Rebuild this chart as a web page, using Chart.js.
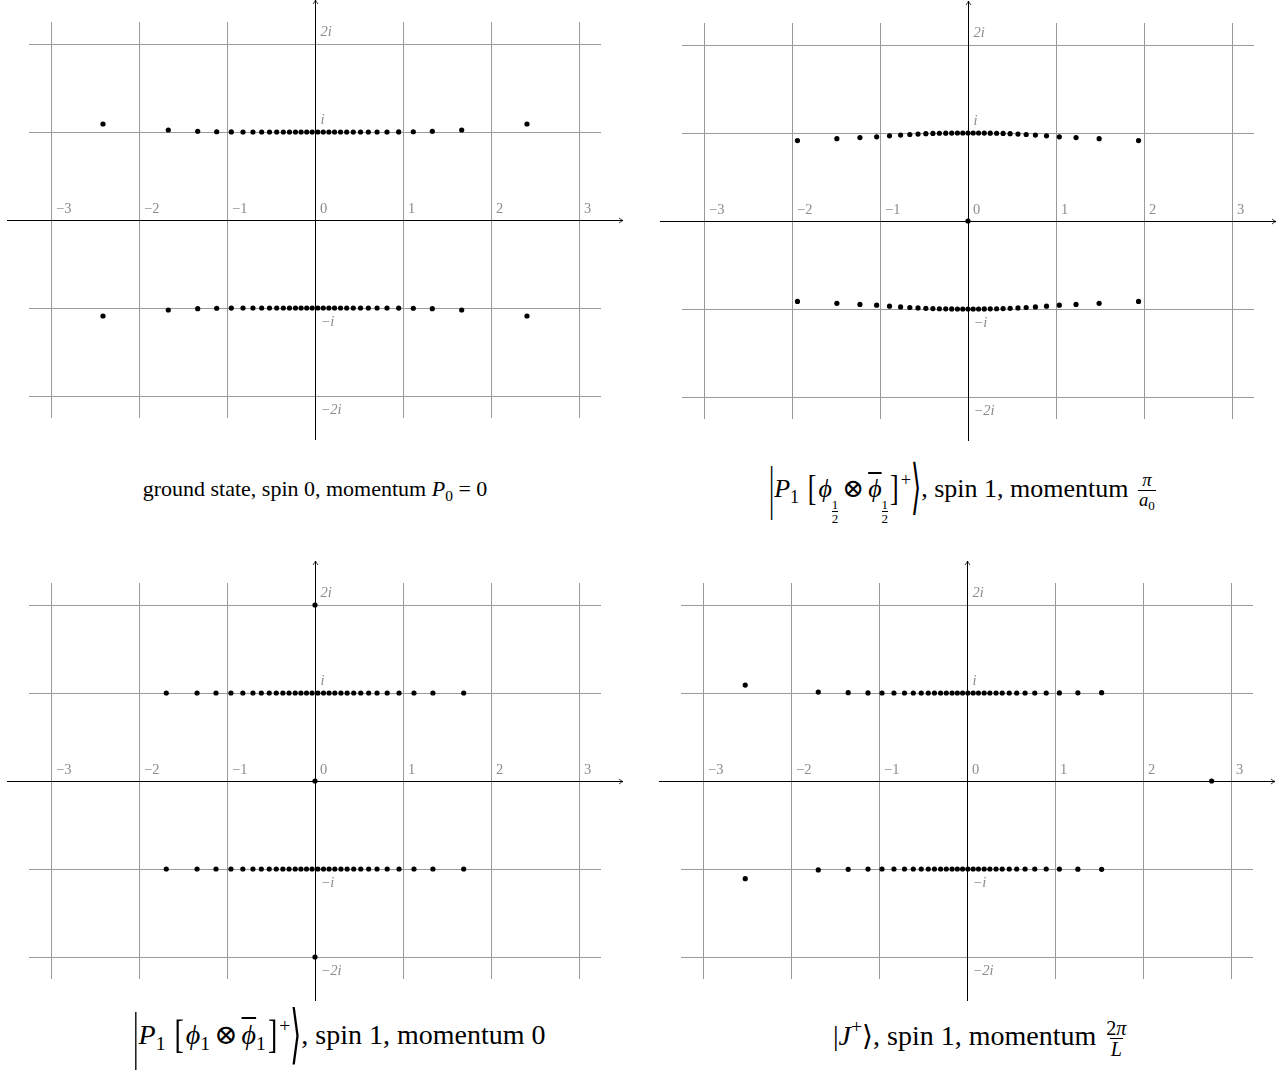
<!DOCTYPE html>
<html>
<head>
<meta charset="utf-8">
<script src="https://cdn.jsdelivr.net/npm/chart.js@4.4.1/dist/chart.umd.min.js"></script>
<style>
body { margin: 0; background: #fff; width: 1288px; height: 1070px; position: relative; overflow: hidden;
  font-family: "Liberation Serif", "DejaVu Serif", serif; }
canvas { position: absolute; }
.cap { position: absolute; white-space: nowrap; color: #000; line-height: 1; }
.cap sub { font-size: 0.7em; vertical-align: -0.3em; }
.cap sup { font-size: 0.7em; vertical-align: 0.6em; }
.big { display: inline-block; transform: scaleY(2.3); font-weight: 300; }
.brk { display: inline-block; transform: scaleY(1.4); margin: 0 2px; }
.op { margin: 0 4px; }
.frac { display: inline-flex; flex-direction: column; align-items: center; vertical-align: middle; font-size: 0.72em; margin-left: 3px; }
.frac > span:last-child { border-top: 1px solid #000; padding: 0 1px; }
.hf { display: inline-flex; flex-direction: column; align-items: center; font-size: 0.5em; vertical-align: -0.9em; line-height: 1; }
.hf > span:last-child { border-top: 1px solid #000; }
.ov { text-decoration: overline; }
</style>
</head>
<body>
<canvas id="c1" width="636" height="460" style="left:-3px;top:-10px"></canvas>
<canvas id="c2" width="636" height="460" style="left:650px;top:-9px"></canvas>
<canvas id="c3" width="636" height="460" style="left:-3px;top:551px"></canvas>
<canvas id="c4" width="636" height="460" style="left:649px;top:551px"></canvas>

<div class="cap" style="left:315px;top:478px;font-size:22px;transform:translateX(-50%)">ground state, spin 0, momentum <i>P</i><sub>0</sub> = 0</div>
<div class="cap" style="left:769px;top:471px;font-size:26px"><span class="big">|</span><i>P</i><sub>1</sub> <span class="brk">[</span><i>&#x3d5;</i><span class="hf"><span>1</span><span>2</span></span><span class="op">⊗</span><i class="ov">&#x3d5;</i><span class="hf"><span>1</span><span>2</span></span><span class="brk">]</span><sup>+</sup><span class="big">⟩</span>, spin 1, momentum <span class="frac"><span><i>π</i></span><span><i>a</i><sub>0</sub></span></span></div>
<div class="cap" style="left:133px;top:1016px;font-size:28px"><span class="big">|</span><i>P</i><sub>1</sub> <span class="brk">[</span><i>&#x3d5;</i><sub>1</sub><span class="op">⊗</span><i class="ov">&#x3d5;</i><sub>1</sub><span class="brk">]</span><sup>+</sup><span class="big">⟩</span>, spin 1, momentum 0</div>
<div class="cap" style="left:833px;top:1017px;font-size:28px">|<i>J</i><sup>+</sup>⟩, spin 1, momentum <span class="frac"><span>2<i>π</i></span><span><i>L</i></span></span></div>

<script>
// tick labels
var xTicks = [-3, -2, -1, 0, 1, 2, 3];
var xTickLabels = ["\u22123", "\u22122", "\u22121", "0", "1", "2", "3"];
var yTicks = [2, 1, -1, -2];
var yTickLabels = ["2i", "i", "\u2212i", "\u22122i"];

// ground state: two rows of roots near +i and -i
var p1RowRe = [-2.409, -1.667, -1.333, -1.117, -0.951, -0.818, -0.705, -0.606, -0.517, -0.435, -0.360, -0.290, -0.222, -0.158, -0.094, -0.032,
  0.032, 0.094, 0.158, 0.222, 0.290, 0.360, 0.435, 0.517, 0.606, 0.705, 0.818, 0.951, 1.117, 1.333, 1.667, 2.409];
var p1UpperIm = [1.091, 1.023, 1.008, 1.003, 1.001, 1, 1, 1, 1, 1, 1, 1, 1, 1, 1, 1,
  1, 1, 1, 1, 1, 1, 1, 1, 1, 1, 1, 1.001, 1.003, 1.008, 1.023, 1.091];
var p1LowerIm = [-1.091, -1.023, -1.008, -1.003, -1.001, -1, -1, -1, -1, -1, -1, -1, -1, -1, -1, -1,
  -1, -1, -1, -1, -1, -1, -1, -1, -1, -1, -1, -1.001, -1.003, -1.008, -1.023, -1.091];

// P1 [phi_1/2 x phibar_1/2]+
var p2RowRe = [-1.938, -1.490, -1.228, -1.038, -0.892, -0.766, -0.661, -0.568, -0.479, -0.399, -0.325, -0.253, -0.185, -0.120, -0.059, 0,
  0.059, 0.120, 0.185, 0.253, 0.325, 0.399, 0.479, 0.568, 0.661, 0.766, 0.892, 1.038, 1.228, 1.490, 1.938];
var p2UpperIm = [0.914, 0.936, 0.948, 0.957, 0.968, 0.976, 0.983, 0.988, 0.992, 0.995, 0.997, 0.998, 0.999, 1, 1, 1,
  1, 1, 0.999, 0.998, 0.997, 0.995, 0.992, 0.988, 0.983, 0.976, 0.968, 0.957, 0.948, 0.936, 0.914];
var p2LowerIm = [-0.914, -0.936, -0.948, -0.957, -0.968, -0.976, -0.983, -0.988, -0.992, -0.995, -0.997, -0.998, -0.999, -1, -1, -1,
  -1, -1, -0.999, -0.998, -0.997, -0.995, -0.992, -0.988, -0.983, -0.976, -0.968, -0.957, -0.948, -0.936, -0.914];
var p2ExtraRe = [0];
var p2ExtraIm = [0];

// P1 [phi_1 x phibar_1]+
var p3RowRe = [-1.69, -1.34, -1.125, -0.955, -0.82, -0.705, -0.61, -0.52, -0.44, -0.365, -0.295, -0.225, -0.16, -0.097, -0.033,
  0.033, 0.097, 0.16, 0.225, 0.295, 0.365, 0.44, 0.52, 0.61, 0.705, 0.82, 0.955, 1.125, 1.34, 1.69];
var p3UpperIm = [1, 1, 1, 1, 1, 1, 1, 1, 1, 1, 1, 1, 1, 1, 1, 1, 1, 1, 1, 1, 1, 1, 1, 1, 1, 1, 1, 1, 1, 1];
var p3LowerIm = [-1, -1, -1, -1, -1, -1, -1, -1, -1, -1, -1, -1, -1, -1, -1, -1, -1, -1, -1, -1, -1, -1, -1, -1, -1, -1, -1, -1, -1, -1];
var p3ExtraRe = [0, 0, 0];
var p3ExtraIm = [2, 0, -2];

// J+
var p4RowRe = [-2.52, -1.69, -1.35, -1.125, -0.966, -0.83, -0.71, -0.61, -0.52, -0.44, -0.37, -0.30, -0.235, -0.17, -0.11, -0.05,
  0.01, 0.07, 0.13, 0.195, 0.26, 0.33, 0.40, 0.48, 0.565, 0.66, 0.77, 0.90, 1.05, 1.26, 1.53];
var p4UpperIm = [1.09, 1.01, 1.004, 1.001, 1, 1, 1, 1, 1, 1, 1, 1, 1, 1, 1, 1, 1, 1, 1, 1, 1, 1, 1, 1, 1, 1, 1, 1, 1.001, 1.002, 1.004];
var p4LowerIm = [-1.11, -1.01, -1.004, -1.001, -1, -1, -1, -1, -1, -1, -1, -1, -1, -1, -1, -1, -1, -1, -1, -1, -1, -1, -1, -1, -1, -1, -1, -1, -1.001, -1.002, -1.004];
var p4ExtraRe = [2.78];
var p4ExtraIm = [0];

function pts(re, im) {
  return re.map(function(x, i) { return { x: x, y: im[i] }; });
}

// grid, axes with arrows and tick labels, drawn from the chart's own scales
var complexPlane = {
  id: "complexPlane",
  beforeDatasetsDraw: function(chart) {
    var ctx = chart.ctx, xs = chart.scales.x, ys = chart.scales.y;
    ctx.save();
    ctx.strokeStyle = "#9a9a9a";
    ctx.lineWidth = 1;
    xTicks.forEach(function(v) {
      var px = Math.round(xs.getPixelForValue(v)) + 0.5;
      ctx.beginPath();
      ctx.moveTo(px, ys.getPixelForValue(2.25));
      ctx.lineTo(px, ys.getPixelForValue(-2.25));
      ctx.stroke();
    });
    [-2, -1, 1, 2].forEach(function(v) {
      var py = Math.round(ys.getPixelForValue(v)) + 0.5;
      ctx.beginPath();
      ctx.moveTo(xs.getPixelForValue(-3.25), py);
      ctx.lineTo(xs.getPixelForValue(3.25), py);
      ctx.stroke();
    });
    // axes
    ctx.strokeStyle = "#000";
    var ox = Math.round(xs.getPixelForValue(0)) + 0.5;
    var oy = Math.round(ys.getPixelForValue(0)) + 0.5;
    var xEnd = xs.getPixelForValue(3.5), yTop = ys.getPixelForValue(2.5);
    ctx.beginPath();
    ctx.moveTo(xs.getPixelForValue(-3.5), oy);
    ctx.lineTo(xEnd, oy);
    ctx.moveTo(ox, ys.getPixelForValue(-2.5));
    ctx.lineTo(ox, yTop);
    ctx.stroke();
    ctx.lineWidth = 0.8;
    ctx.beginPath();
    ctx.moveTo(xEnd - 4, oy - 2.5); ctx.quadraticCurveTo(xEnd - 1.5, oy - 0.5, xEnd, oy);
    ctx.quadraticCurveTo(xEnd - 1.5, oy + 0.5, xEnd - 4, oy + 2.5);
    ctx.moveTo(ox - 2.5, yTop + 4); ctx.quadraticCurveTo(ox - 0.5, yTop + 1.5, ox, yTop);
    ctx.quadraticCurveTo(ox + 0.5, yTop + 1.5, ox + 2.5, yTop + 4);
    ctx.stroke();
    // tick labels
    ctx.fillStyle = "#8c8c8c";
    ctx.font = "14.5px 'Liberation Serif', serif";
    ctx.textAlign = "left";
    ctx.textBaseline = "alphabetic";
    xTicks.forEach(function(v, i) {
      ctx.fillText(xTickLabels[i], xs.getPixelForValue(v) + 5, oy - 8);
    });
    ctx.font = "italic 14.5px 'Liberation Serif', serif";
    yTicks.forEach(function(v, i) {
      var py = ys.getPixelForValue(v);
      ctx.fillText(yTickLabels[i], ox + 5, v > 0 ? py - 8 : py + 18);
    });
    ctx.restore();
  }
};

function makePanel(id, sets) {
  new Chart(document.getElementById(id).getContext("2d"), {
    type: "scatter",
    data: {
      datasets: sets.map(function(s) {
        return { data: s, pointRadius: 2.6, pointBackgroundColor: "#000", pointBorderWidth: 0, clip: false };
      })
    },
    options: {
      responsive: false,
      animation: false,
      layout: { padding: 10 },
      plugins: { legend: { display: false }, tooltip: { enabled: false } },
      scales: {
        x: { type: "linear", min: -3.5, max: 3.5, display: false },
        y: { type: "linear", min: -2.5, max: 2.5, display: false }
      }
    },
    plugins: [complexPlane]
  });
}

makePanel("c1", [pts(p1RowRe, p1UpperIm), pts(p1RowRe, p1LowerIm)]);
makePanel("c2", [pts(p2RowRe, p2UpperIm), pts(p2RowRe, p2LowerIm), pts(p2ExtraRe, p2ExtraIm)]);
makePanel("c3", [pts(p3RowRe, p3UpperIm), pts(p3RowRe, p3LowerIm), pts(p3ExtraRe, p3ExtraIm)]);
makePanel("c4", [pts(p4RowRe, p4UpperIm), pts(p4RowRe, p4LowerIm), pts(p4ExtraRe, p4ExtraIm)]);
</script>
</body>
</html>
